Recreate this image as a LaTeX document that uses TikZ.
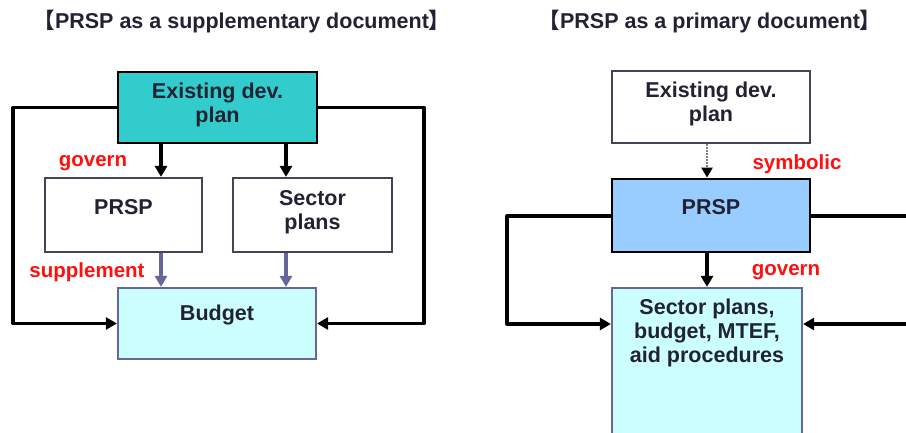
\documentclass[tikz,border=0pt]{standalone}
\usepackage{fontspec}
\setmainfont{Liberation Sans}
\newfontfamily\cjk{Noto Sans CJK SC}
\usetikzlibrary{arrows.meta}
\definecolor{tealfill}{HTML}{33CCCC}
\definecolor{bluefill}{HTML}{99CCFF}
\definecolor{cyanfill}{HTML}{CCFFFF}
\definecolor{inkc}{HTML}{222233}
\definecolor{lavline}{HTML}{666699}
\definecolor{grayline}{HTML}{444455}
\definecolor{redc}{HTML}{FF1010}
\begin{document}
\begin{tikzpicture}[x=1pt,y=-1pt,
  font=\bfseries\fontsize{21.5}{24}\selectfont,
  box/.style={draw=grayline,line width=2.2pt,inner sep=0pt},
  txt/.style={text=inkc,align=center,inner sep=0pt},
  lbl/.style={text=redc,inner sep=0pt,font=\bfseries\fontsize{20.5}{24}\selectfont},
  wire/.style={draw=black,line width=3.2pt,line join=round},
  lavwire/.style={draw=lavline,line width=3.2pt},
  tip/.style={-{Triangle[length=11pt,width=12pt]}},
  dottip/.style={-{Triangle[length=10pt,width=11pt,color=black]}}]
\useasboundingbox (0,0) rectangle (906,433);
\clip (0,0) rectangle (906,433);
\fill[white] (0,0) rectangle (906,433);

% ---------- titles ----------
\node[txt] (title1) at (242,22) {{\cjk\bfseries 【}PRSP as a supplementary document{\cjk\bfseries 】}};
\node[txt] (title2) at (710,22) {{\cjk\bfseries 【}PRSP as a primary document{\cjk\bfseries 】}};

% ---------- left diagram ----------
\node[box,draw=black,line width=2.6pt,fill=tealfill,minimum width=199pt,minimum height=71pt] (ex1) at (217.5,107.5) {};
\node[txt] (ex1t) at (217.5,105) {Existing dev.\\plan};
\node[box,minimum width=157pt,minimum height=74pt] (p1) at (123.5,215) {};
\node[txt] (p1t) at (123.5,207) {PRSP};
\node[box,minimum width=159pt,minimum height=74pt] (s1) at (312.5,215) {};
\node[txt] (s1t) at (312.5,212) {Sector\\plans};
\node[box,draw=lavline,fill=cyanfill,minimum width=198pt,minimum height=71pt] (b1) at (217,323.5) {};
\node[txt] (b1t) at (217,315) {Budget};
\node[lbl] (gov1) at (93,163) {govern};
\node[lbl] (sup1) at (87,272) {supplement};

\coordinate (ca) at (161,0);
\coordinate (cb) at (286,0);
\coordinate (lw) at (13,0);
\coordinate (rw) at (424,0);
\draw[wire,tip] (ex1.south -| ca) -- (p1.north -| ca);
\draw[wire,tip] (ex1.south -| cb) -- (s1.north -| cb);
\draw[lavwire,tip] (p1.south -| ca) -- (b1.north -| ca);
\draw[lavwire,tip] (s1.south -| cb) -- (b1.north -| cb);
\draw[wire,tip] (ex1.west) -- (ex1.west -| lw) |- (b1.west);
\draw[wire,tip] (ex1.east) -- (ex1.east -| rw) |- (b1.east);

% ---------- right diagram ----------
\node[box,minimum width=198pt,minimum height=72pt] (ex2) at (711,107) {};
\node[txt] (ex2t) at (711,104) {Existing dev.\\plan};
\node[box,draw=black,line width=2.8pt,fill=bluefill,minimum width=198pt,minimum height=73pt] (p2) at (711,215.5) {};
\node[txt] (p2t) at (711,207) {PRSP};
\node[box,draw=lavline,fill=cyanfill,minimum width=190pt,minimum height=146pt] (s2) at (707,361) {};
\node[txt] (s2t) at (707,333) {Sector plans,\\budget, MTEF,\\aid procedures};
\node[lbl] (sym2) at (797,164) {symbolic};
\node[lbl] (gov2) at (786,272) {govern};

\coordinate (cc) at (707,0);
\coordinate (lw2) at (507,0);
\coordinate (rw2) at (930,0);
\coordinate (yy) at (0,324);
\coordinate (yt) at (0,216);
\draw[draw=gray,line width=2.4pt,dash pattern=on 1.5pt off 1.5pt,dottip] (ex2.south -| cc) -- (p2.north -| cc);
\draw[wire,tip] (p2.south -| cc) -- (s2.north -| cc);
\draw[wire,tip] (p2.west |- yt) -- (lw2 |- yt) -- (lw2 |- yy) -- (s2.west |- yy);
\draw[wire] (p2.east |- yt) -- (rw2 |- yt) -- (rw2 |- yy);
\draw[wire,tip] (rw2 |- yy) -- (s2.east |- yy);
\end{tikzpicture}
\end{document}
